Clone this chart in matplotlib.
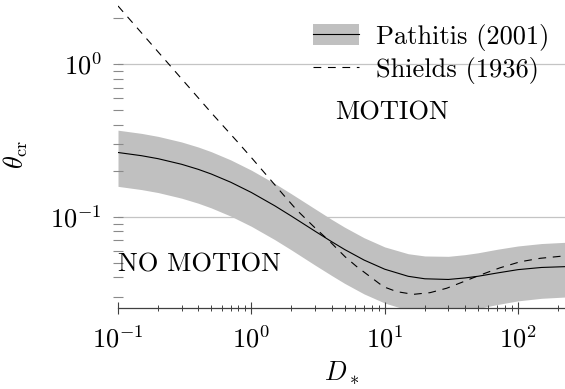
import matplotlib
matplotlib.use("Agg")
import matplotlib.pyplot as plt

plt.rcParams.update({
    "font.family": "serif",
    "font.serif": ["cmr10"],
    "mathtext.fontset": "cm",
    "axes.formatter.use_mathtext": True,
    "font.size": 19,
})

# Pathitis (2001) critical Shields parameter with its scatter envelope
d_path = [0.1, 0.15, 0.2, 0.3, 0.4, 0.5, 0.7, 1.0, 1.5, 2.0, 3.0, 4.0, 5.0, 7.0,
          10.0, 15.0, 20.0, 30.0, 40.0, 50.0, 70.0, 100.0, 150.0, 230.0]
theta_path = [0.2633, 0.2509, 0.2398, 0.2204, 0.2042, 0.1904, 0.1682, 0.1441,
              0.1178, 0.1008, 0.0804, 0.0686, 0.0610, 0.0520, 0.0453, 0.0407,
              0.0392, 0.0388, 0.0397, 0.0407, 0.0428, 0.0450, 0.0465, 0.0471]
theta_path_hi = [0.3686, 0.3513, 0.3357, 0.3086, 0.2859, 0.2666, 0.2355, 0.2017,
                 0.1649, 0.1411, 0.1126, 0.0960, 0.0854, 0.0728, 0.0634, 0.0572,
                 0.0553, 0.0550, 0.0564, 0.0580, 0.0612, 0.0643, 0.0667, 0.0680]
theta_path_lo = [0.1580, 0.1505, 0.1439, 0.1322, 0.1225, 0.1142, 0.1009, 0.0865,
                 0.0707, 0.0605, 0.0482, 0.0412, 0.0366, 0.0312, 0.0272, 0.0244,
                 0.0235, 0.0235, 0.0242, 0.0250, 0.0266, 0.0281, 0.0292, 0.0298]

# Shields (1936) curve
d_shields = [0.1, 0.2, 0.5, 0.78, 1.0, 1.38, 1.74, 2.19, 2.92, 3.89, 5.04, 6.17,
             7.77, 9.78, 12.3, 16.4, 21.9, 29.2, 38.9, 52.0, 73.5, 104.0, 147.0, 230.0]
theta_shields = [2.4, 1.2, 0.48, 0.312, 0.244, 0.176, 0.139, 0.1106, 0.0865,
                 0.0686, 0.0547, 0.0471, 0.0405, 0.0348, 0.0323, 0.0310, 0.0318,
                 0.0340, 0.0375, 0.0415, 0.0463, 0.0507, 0.0534, 0.0555]

grid_levels = [0.1, 1.0]

fig = plt.figure(figsize=(5.65, 3.89), dpi=100)
ax = fig.add_axes([118 / 565, 81 / 389, 447 / 565, 308 / 389])
ax.set_xscale("log")
ax.set_yscale("log")
ax.set_xlim(0.1, 225)
ax.set_ylim(0.02523, 2.626)

for lvl in grid_levels:
    ax.axhline(lvl, color="#c4c4c4", lw=0.9, zorder=0.5)

band = ax.fill_between(d_path, theta_path_lo, theta_path_hi,
                       color="#c0c0c0", lw=0, zorder=1)
line_p, = ax.plot(d_path, theta_path, color="black", lw=0.8, zorder=2)
line_s, = ax.plot(d_shields, theta_shields, color="black", lw=0.8,
                  ls=(0, (7.0, 6.0)), zorder=2)

for side in ("top", "right", "left"):
    ax.spines[side].set_visible(False)
ax.spines["bottom"].set_color("#404040")
ax.spines["bottom"].set_linewidth(0.9)

ax.tick_params(axis="x", which="major", direction="inout", length=8,
               width=0.8, color="#404040", pad=9)
ax.tick_params(axis="x", which="minor", direction="inout", length=4,
               width=0.7, color="#404040")
ax.tick_params(axis="y", which="both", direction="inout", length=7.5,
               width=0.8, color="#8a8a8a")
ax.tick_params(axis="y", which="major", pad=8)
ax.tick_params(axis="y", which="minor", labelleft=False)

ax.set_xlabel(r"$D_*$", labelpad=5)
ax.set_ylabel(r"$\theta_{\rm cr}$", labelpad=14)

ax.text(0.1, 0.0436, "NO MOTION", ha="left", va="baseline")
ax.text(4.25, 0.436, "MOTION", ha="left", va="baseline")

ax.legend([(band, line_p), line_s], ["Pathitis (2001)", "Shields (1936)"],
          loc="upper right", bbox_to_anchor=(549 / 565, 1 - 24 / 389),
          bbox_transform=fig.transFigure, frameon=False, borderpad=0,
          borderaxespad=0, handlelength=1.74, handletextpad=0.62,
          labelspacing=0.22, handleheight=0.85)

fig.savefig("out.png", dpi=100)
